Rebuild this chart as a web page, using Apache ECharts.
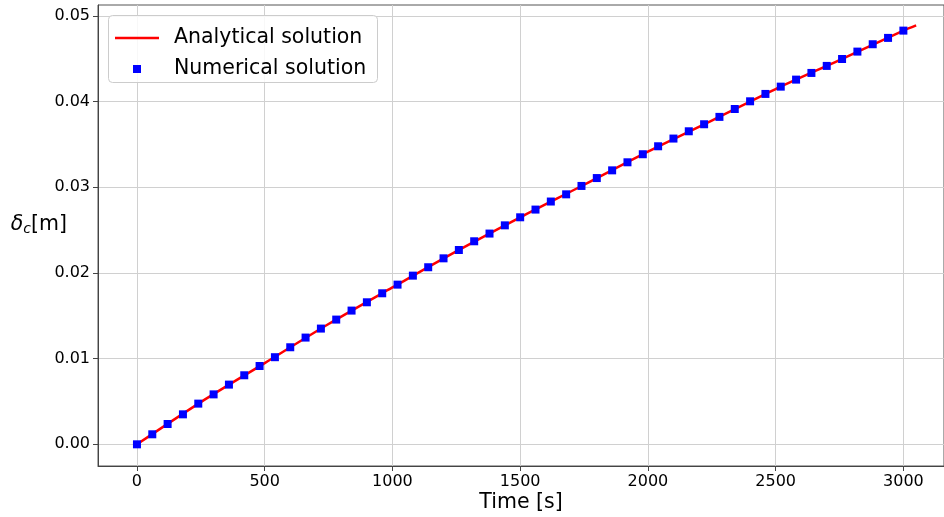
<!DOCTYPE html>
<html>
<head>
<meta charset="utf-8">
<script src="https://cdn.jsdelivr.net/npm/echarts@6/dist/echarts.min.js"></script>
<style>html,body{margin:0;padding:0;background:#fff}#c{width:944px;height:517px}</style>
</head>
<body>
<div id="c"></div>
<script>
const numTime = [0,60,120,180,240,300,360,420,480,540,600,660,720,780,840,900,960,1020,1080,1140,1200,1260,1320,1380,1440,1500,1560,1620,1680,1740,1800,1860,1920,1980,2040,2100,2160,2220,2280,2340,2400,2460,2520,2580,2640,2700,2760,2820,2880,2940,3000];
const numDisp = [0,0.00117,0.00237,0.0035,0.00475,0.00583,0.00697,0.00806,0.00914,0.01017,0.01133,0.01246,0.01351,0.01456,0.01561,0.01658,0.01763,0.01864,0.01969,0.02067,0.02171,0.02268,0.0237,0.0246,0.02556,0.0265,0.0274,0.02834,0.02918,0.03016,0.03108,0.03198,0.03292,0.03386,0.03479,0.03569,0.03654,0.03736,0.03822,0.03914,0.04004,0.0409,0.04175,0.04257,0.04335,0.04417,0.04498,0.04584,0.0467,0.04744,0.04829];
const anaTime = [0,250,500,750,1000,1250,1500,1750,2000,2250,2500,2750,3000,3050];
const anaDisp = [0,0.00493,0.00948,0.01404,0.01831,0.02252,0.0265,0.0303,0.03417,0.03779,0.04147,0.04485,0.04829,0.0489];
const xTicks = [0,500,1000,1500,2000,2500,3000];
const yTicks = [0,0.01,0.02,0.03,0.04,0.05];

const FONT = 'DejaVu Sans';
const chart = echarts.init(document.getElementById('c'), null, {renderer:'canvas'});
const zip = (a,b) => a.map((v,i)=>[v,b[i]]);
chart.setOption({
  animation:false,
  backgroundColor:'#fff',
  textStyle:{fontFamily:FONT},
  grid:{left:98,right:0,top:5,bottom:51,show:true,borderColor:'#555',borderWidth:1,containLabel:false,outerBoundsMode:'none'},
  xAxis:{type:'value',min:-152.5,max:3159,
    name:'Time [s]',nameLocation:'middle',nameGap:26,nameMoveOverlap:false,
    nameTextStyle:{fontSize:20.5,color:'#000',fontFamily:FONT},
    axisLine:{show:true,onZero:false,lineStyle:{color:'#444',width:1}},
    axisTick:{show:true,length:5,inside:false,customValues:xTicks,lineStyle:{color:'#444'}},
    axisLabel:{customValues:xTicks,fontSize:16,color:'#000',margin:8,fontFamily:FONT,formatter:v=>String(v)},
    splitLine:{show:true,lineStyle:{color:'#d0d0d0',width:1}}
  },
  yAxis:{type:'value',min:-0.00253,max:0.05128,
    name:'{d|δ}{s|c}{m|[m]}',nameLocation:'middle',nameGap:31,nameRotate:0,nameMoveOverlap:false,
    nameTextStyle:{align:'right',padding:[0,0,22,0],rich:{
      d:{fontSize:20.5,fontStyle:'italic',color:'#000',fontFamily:FONT},
      s:{fontSize:14,fontStyle:'italic',color:'#000',fontFamily:FONT,padding:[10,0,0,0]},
      m:{fontSize:20.5,color:'#000',fontFamily:FONT}}},
    axisLine:{show:true,onZero:false,lineStyle:{color:'#444',width:1}},
    axisTick:{show:true,length:5,inside:false,customValues:yTicks,lineStyle:{color:'#444'}},
    axisLabel:{customValues:yTicks,fontSize:16,color:'#000',margin:8,fontFamily:FONT,formatter:v=>v.toFixed(2)},
    splitLine:{show:true,lineStyle:{color:'#d0d0d0',width:1}}
  },
  graphic:[{type:'rect',left:108,top:15,z:90,shape:{width:269,height:67,r:4},style:{fill:'rgba(255,255,255,0.85)',stroke:'#cccccc',lineWidth:1}}],
  legend:[
    {data:[{name:'Analytical solution',icon:'rect'}],left:110,top:21,itemWidth:44,itemHeight:2.5,z:100,selectedMode:false,
      textStyle:{fontSize:20.5,color:'#000',fontFamily:FONT,lineHeight:24,padding:[0,0,0,10]}},
    {data:['Numerical solution'],left:128,top:52,itemWidth:8,itemHeight:8,z:100,selectedMode:false,
      textStyle:{fontSize:20.5,color:'#000',fontFamily:FONT,lineHeight:24,padding:[0,0,0,28]}}
  ],
  series:[
    {name:'Analytical solution',type:'line',data:zip(anaTime,anaDisp),smooth:0.3,symbol:'none',
      lineStyle:{color:'#ff0000',width:2.5},itemStyle:{color:'#ff0000'},z:2},
    {name:'Numerical solution',type:'scatter',data:zip(numTime,numDisp),symbol:'rect',symbolSize:8,
      itemStyle:{color:'#0000ff',opacity:1},z:3}
  ]
});
</script>
</body>
</html>
